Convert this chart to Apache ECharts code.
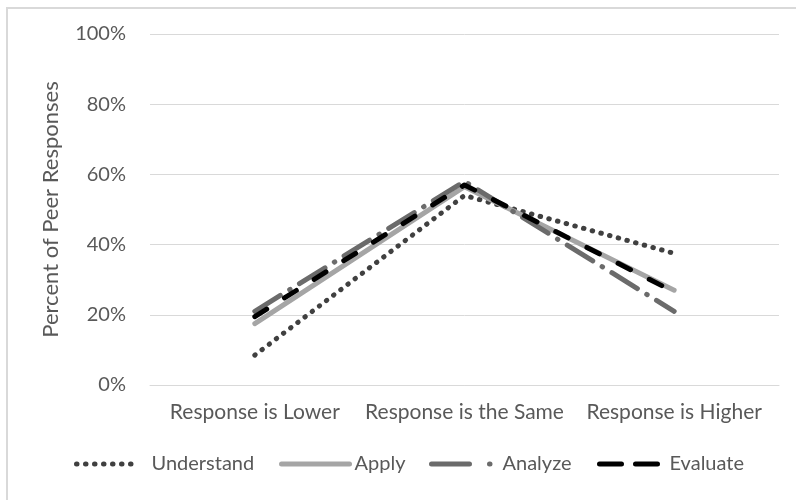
<!DOCTYPE html>
<html>
<head>
<meta charset="utf-8">
<script src="https://cdn.jsdelivr.net/npm/echarts@6/dist/echarts.min.js"></script>
<style>
html,body{margin:0;padding:0;background:#fff;}
#chart{width:796px;height:500px;}
</style>
</head>
<body>
<div id="chart"></div>
<script>
var categories = ['Response is Lower', 'Response is the Same', 'Response is Higher'];
var yTicks = [0, 20, 40, 60, 80, 100];
var understand = [8.5, 54, 37.5];
var applyVals = [17.5, 56.5, 27];
var analyze = [21, 58, 21];
var evaluate = [19.5, 57, 26.5];

var FONT = 'Lato';
var TXT = '#595959';

var chart = echarts.init(document.getElementById('chart'), null, {renderer: 'canvas'});

var styles = {
  Understand: {color: '#404040', width: 5, type: [0.5, 8.5], cap: 'round'},
  Apply: {color: '#a5a5a5', width: 5, type: 'solid', cap: 'round'},
  Analyze: {color: '#6b6b6b', width: 5, type: [30, 11, 0.5, 11], cap: 'round'},
  Evaluate: {color: '#000000', width: 5, type: [14, 21], cap: 'round'}
};
var vals = {Understand: understand, Apply: applyVals, Analyze: analyze, Evaluate: evaluate};
var names = ['Understand', 'Apply', 'Analyze', 'Evaluate'];
var legendLeft = [69, 274, 424, 592];
var legendIconW = [60, 68, 64, 62];
var legendTextPad = [10, 0, 2, 3];
var legendLineType = [[0.5, 8.5], 'solid', [38, 20, 0.5, 20], [22, 14]];

var series = names.map(function (n) {
  var s = styles[n];
  return {
    name: n,
    type: 'line',
    data: vals[n],
    symbol: 'none',
    silent: true,
    animation: false,
    lineStyle: {color: s.color, width: s.width, type: s.type, cap: s.cap, join: 'round'},
    itemStyle: {color: s.color}
  };
});

var legends = names.map(function (n, i) {
  var s = styles[n];
  return {
    id: 'lg' + i,
    show: true,
    orient: 'horizontal',
    data: [n],
    left: legendLeft[i],
    bottom: 21,
    itemWidth: legendIconW[i],
    itemHeight: 10,
    selectedMode: false,
    itemStyle: {color: 'rgba(0,0,0,0)', borderColor: 'rgba(0,0,0,0)', borderWidth: 0},
    lineStyle: {type: legendLineType[i], width: s.width, cap: 'round', color: s.color},
    textStyle: {fontFamily: FONT, fontSize: 20, color: TXT, padding: [0, 0, 0, legendTextPad[i]]}
  };
});

chart.setOption({
  backgroundColor: '#fff',
  animation: false,
  graphic: [{
    type: 'rect',
    shape: {x: 7, y: 8, width: 900, height: 600},
    style: {fill: 'none', stroke: '#d9d9d9', lineWidth: 2},
    silent: true
  }],
  grid: {left: 150, right: 17, top: 34, bottom: 115, containLabel: false},
  legend: legends,
  xAxis: {
    type: 'category',
    data: categories,
    boundaryGap: true,
    axisLine: {show: true, lineStyle: {color: '#d9d9d9', width: 1}},
    axisTick: {show: false},
    axisLabel: {fontFamily: FONT, fontSize: 21, color: TXT, margin: 17, interval: 0}
  },
  yAxis: {
    type: 'value',
    min: yTicks[0],
    max: yTicks[yTicks.length - 1],
    interval: yTicks[1] - yTicks[0],
    axisLine: {show: false},
    axisTick: {show: false},
    splitLine: {lineStyle: {color: '#d9d9d9', width: 1}},
    axisLabel: {fontFamily: FONT, fontSize: 20, color: TXT, margin: 24, formatter: '{value}%'},
    name: 'Percent of Peer Responses',
    nameLocation: 'middle',
    nameGap: 88,
    nameTextStyle: {fontFamily: FONT, fontSize: 22, color: TXT}
  },
  series: series
});
</script>
</body>
</html>
